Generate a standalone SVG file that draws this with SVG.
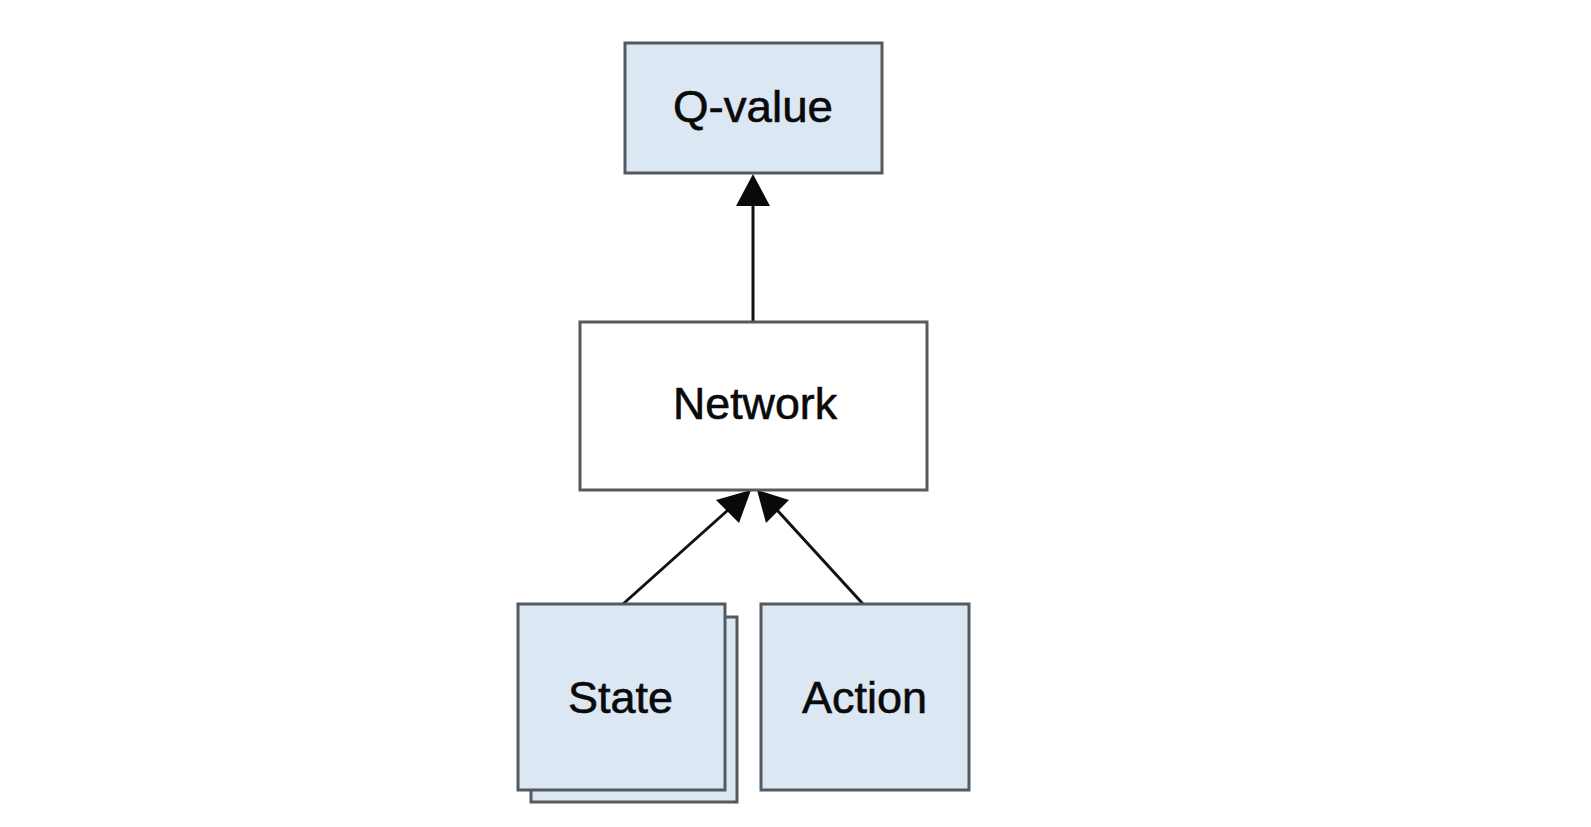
<svg xmlns="http://www.w3.org/2000/svg" width="1591" height="827" viewBox="0 0 1591 827">
<style>
.blue{fill:#dbe7f3;stroke:#555a5e;stroke-width:3}
.white{fill:#ffffff;stroke:#555a5e;stroke-width:3}
.lbl{font-family:"Liberation Sans",Arial,sans-serif;font-size:44px;fill:#0a0a0a;stroke:#0a0a0a;stroke-width:0.6}
.edge{stroke:#111;stroke-width:3;fill:none}
.head{fill:#0a0a0a}
</style>
<rect width="1591" height="827" fill="#ffffff"/>
<g id="connectors">
<line class="edge" x1="753" y1="322" x2="753" y2="200"/>
<polygon class="head" points="753,174 770,206 736,206"/>
<line class="edge" x1="623" y1="604" x2="728" y2="510"/>
<polygon class="head" points="751,490 739,523 716,500"/>
<line class="edge" x1="863" y1="604" x2="777" y2="510"/>
<polygon class="head" points="757,490 789,500 766,523"/>
</g>
<g id="qvalue">
<rect class="blue" x="625" y="43" width="257" height="130"/>
<text class="lbl" x="673" y="122" textLength="160" lengthAdjust="spacingAndGlyphs">Q-value</text>
</g>
<g id="network">
<rect class="white" x="580" y="322" width="347" height="168"/>
<text class="lbl" x="673" y="419" textLength="164" lengthAdjust="spacingAndGlyphs">Network</text>
</g>
<g id="state">
<rect class="blue" x="531" y="617" width="206" height="185"/>
<rect class="blue" x="518" y="604" width="207" height="186"/>
<text class="lbl" x="568" y="713" textLength="105" lengthAdjust="spacingAndGlyphs">State</text>
</g>
<g id="action">
<rect class="blue" x="761" y="604" width="208" height="186"/>
<text class="lbl" x="802" y="713" textLength="125" lengthAdjust="spacingAndGlyphs">Action</text>
</g>
</svg>
